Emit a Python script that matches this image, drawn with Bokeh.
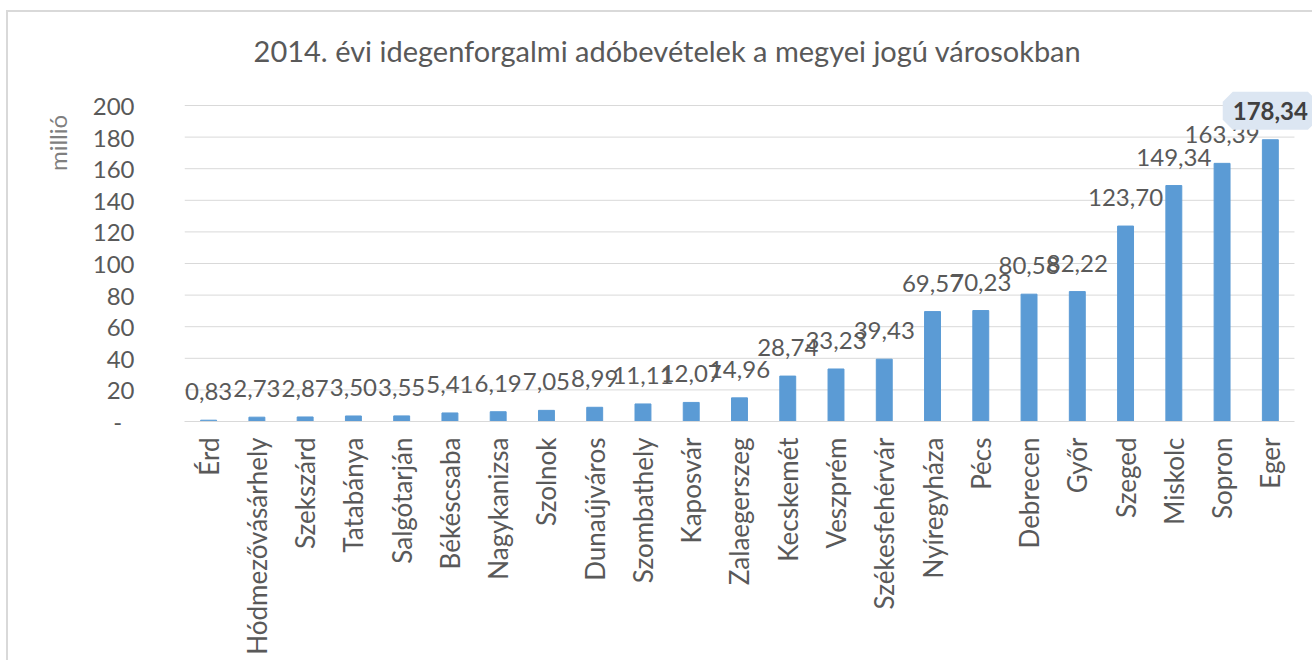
import math
from bokeh.plotting import figure
from bokeh.models import (ColumnDataSource, LabelSet, Label, FixedTicker, Range1d,
                          LinearAxis)
from bokeh.core.properties import value
from bokeh.embed import file_html
from bokeh.resources import INLINE

cities = ["Érd", "Hódmezővásárhely", "Szekszárd", "Tatabánya", "Salgótarján",
          "Békéscsaba", "Nagykanizsa", "Szolnok", "Dunaújváros", "Szombathely",
          "Kaposvár", "Zalaegerszeg", "Kecskemét", "Veszprém", "Székesfehérvár",
          "Nyíregyháza", "Pécs", "Debrecen", "Győr", "Szeged", "Miskolc",
          "Sopron", "Eger"]
values = [0.83, 2.73, 2.87, 3.50, 3.55, 5.41, 6.19, 7.05, 8.99, 11.11, 12.07,
          14.96, 28.74, 33.23, 39.43, 69.57, 70.23, 80.58, 82.22, 123.70,
          149.34, 163.39, 178.34]
y_ticks = [0, 20, 40, 60, 80, 100, 120, 140, 160, 180, 200]
title_text = "2014. évi idegenforgalmi adóbevételek a megyei jogú városokban"
y_title = "millió"

n = len(cities)
xpos = list(range(1, n + 1))
labels = [f"{v:.2f}".replace(".", ",") for v in values]

FONT = "Lato"
GRAY = "#595959"
GRID = "#d9d9d9"

p = figure(x_range=Range1d(0.5, n + 0.915), y_range=Range1d(0, 253.8),
           width=1306, height=650, output_backend="svg", toolbar_location=None,
           min_border_left=176, min_border_right=0, min_border_top=8,
           min_border_bottom=241)
p.styles = {"margin-left": "6px", "margin-top": "10px",
            "border-left": "2px solid #d9d9d9", "border-top": "2px solid #d9d9d9"}
p.outline_line_color = None
p.background_fill_color = "white"
p.border_fill_color = "white"

# gridlines (only across the category span)
grid_y = [t for t in y_ticks if t > 0]
p.segment(x0=[0.5] * len(grid_y), x1=[n + 0.5] * len(grid_y), y0=grid_y, y1=grid_y,
          line_color=GRID, line_width=1)

src = ColumnDataSource(dict(x=xpos, value=values, label=labels))
p.vbar(x="x", top="value", width=0.33, source=src, color="#5b9bd5")

# axes
p.xgrid.grid_line_color = None
p.ygrid.grid_line_color = None
p.yaxis.ticker = FixedTicker(ticks=y_ticks)
p.yaxis.major_label_overrides = {0: "-\u00a0\u00a0"}
p.yaxis.axis_line_color = None
p.yaxis.major_tick_line_color = None
p.yaxis.minor_tick_line_color = None
p.yaxis.major_tick_out = 0
p.yaxis.major_label_standoff = 50
p.yaxis.major_label_text_font = FONT
p.yaxis.major_label_text_font_size = "24px"
p.yaxis.major_label_text_color = GRAY

p.xaxis.ticker = FixedTicker(ticks=xpos)
p.xaxis.major_label_overrides = {x: c for x, c in zip(xpos, cities)}
p.xaxis.bounds = (0.5, n + 0.5)
p.xaxis.axis_line_color = GRID
p.xaxis.axis_line_width = 1
p.xaxis.major_tick_line_color = None
p.xaxis.minor_tick_line_color = None
p.xaxis.major_tick_out = 0
p.xaxis.major_label_orientation = math.pi / 2
p.xaxis.major_label_standoff = 16
p.xaxis.major_label_text_font = FONT
p.xaxis.major_label_text_font_size = "26px"
p.xaxis.major_label_text_color = GRAY

# axis title, shifted towards the top of the value axis as in the original
ytitle_axis = LinearAxis(ticker=FixedTicker(ticks=[]),
                         axis_label="\u2002" * 13 + y_title, axis_label_standoff=18,
                         axis_label_text_font=FONT, axis_label_text_font_size="24px",
                         axis_label_text_font_style="normal",
                         axis_label_text_color="#7f7f7f", axis_line_color=None,
                         major_tick_out=0, minor_tick_out=0,
                         major_tick_line_color=None, minor_tick_line_color=None)
p.add_layout(ytitle_axis, "left")

# data labels
src_main = ColumnDataSource(dict(x=xpos[:-1], value=values[:-1], label=labels[:-1]))
src_last = ColumnDataSource(dict(x=xpos[-1:], value=values[-1:], label=labels[-1:]))
p.add_layout(LabelSet(x="x", y="value", text="label", source=src_main,
                      y_offset=20, text_align="center", text_baseline="alphabetic",
                      text_font=value(FONT), text_font_size="24px", text_color=GRAY))
p.add_layout(LabelSet(x="x", y="value", text="label", source=src_last,
                      y_offset=20, text_align="center", text_baseline="alphabetic",
                      text_font=value(FONT), text_font_size="24px",
                      text_color="#404040", text_font_style="bold",
                      background_fill_color="#dce6f2",
                      border_line_color="#dce6f2", border_line_width=20))

# chart title
p.add_layout(Label(x=483, y=234.5, x_units="screen", y_units="data", text=title_text,
                   text_align="center", text_baseline="alphabetic", text_font=FONT,
                   text_font_size="29px", text_color=GRAY))

open("out.html", "w").write(file_html(p, INLINE))
